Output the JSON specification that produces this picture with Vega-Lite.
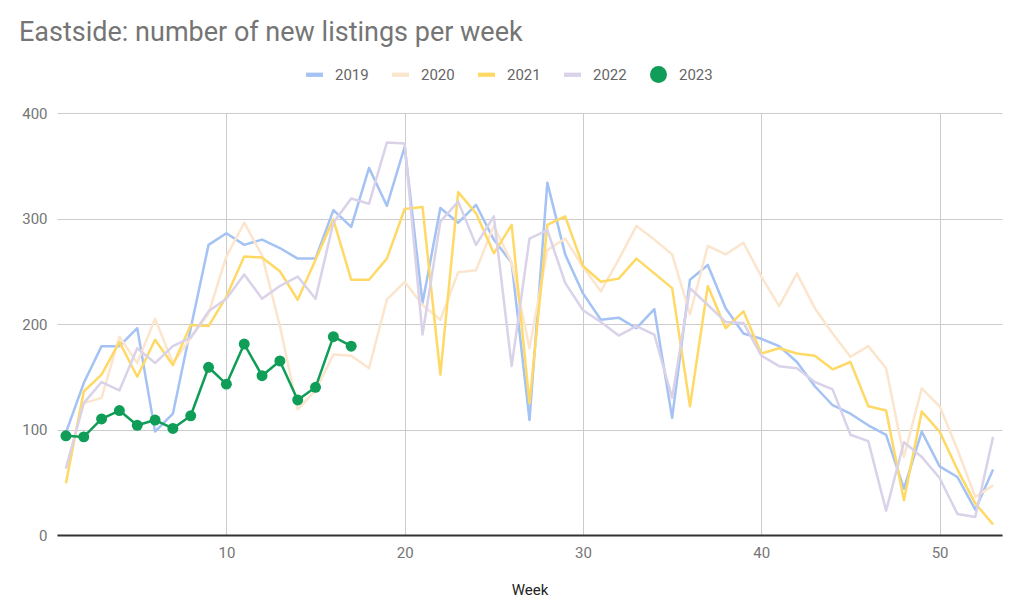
{
  "$schema": "https://vega.github.io/schema/vega-lite/v6.json",
  "width": 945,
  "height": 422,
  "autosize": {"type": "none"},
  "padding": {"left": 57, "top": 113, "right": 22, "bottom": 76},
  "background": "white",
  "config": {"view": {"stroke": null}},
  "title": {
    "text": "Eastside: number of new listings per week",
    "anchor": "start",
    "frame": "group",
    "dx": -38,
    "offset": 19,
    "font": "Roboto",
    "fontSize": 27,
    "fontWeight": "normal",
    "color": "#757575"
  },
  "data": {
    "values": [
      {"week": 1, "2019": 97, "2020": 63, "2021": 49, "2022": 63, "2023": 94},
      {"week": 2, "2019": 144, "2020": 125, "2021": 136, "2022": 125, "2023": 93},
      {"week": 3, "2019": 179, "2020": 130, "2021": 152, "2022": 145, "2023": 110},
      {"week": 4, "2019": 179, "2020": 188, "2021": 183, "2022": 137, "2023": 118},
      {"week": 5, "2019": 196, "2020": 163, "2021": 150, "2022": 177, "2023": 104},
      {"week": 6, "2019": 98, "2020": 205, "2021": 185, "2022": 163, "2023": 109},
      {"week": 7, "2019": 115, "2020": 163, "2021": 161, "2022": 179, "2023": 101},
      {"week": 8, "2019": 196, "2020": 187, "2021": 199, "2022": 187, "2023": 113},
      {"week": 9, "2019": 275, "2020": 210, "2021": 198, "2022": 212, "2023": 159},
      {"week": 10, "2019": 286, "2020": 264, "2021": 226, "2022": 224, "2023": 143},
      {"week": 11, "2019": 275, "2020": 296, "2021": 264, "2022": 247, "2023": 181},
      {"week": 12, "2019": 280, "2020": 265, "2021": 263, "2022": 224, "2023": 151},
      {"week": 13, "2019": 272, "2020": 198, "2021": 250, "2022": 236, "2023": 165},
      {"week": 14, "2019": 262, "2020": 119, "2021": 223, "2022": 245, "2023": 128},
      {"week": 15, "2019": 262, "2020": 137, "2021": 261, "2022": 224, "2023": 140},
      {"week": 16, "2019": 308, "2020": 171, "2021": 299, "2022": 296, "2023": 188},
      {"week": 17, "2019": 292, "2020": 170, "2021": 242, "2022": 319, "2023": 179},
      {"week": 18, "2019": 348, "2020": 158, "2021": 242, "2022": 314},
      {"week": 19, "2019": 312, "2020": 223, "2021": 262, "2022": 372},
      {"week": 20, "2019": 368, "2020": 240, "2021": 309, "2022": 371},
      {"week": 21, "2019": 220, "2020": 218, "2021": 311, "2022": 190},
      {"week": 22, "2019": 310, "2020": 204, "2021": 152, "2022": 297},
      {"week": 23, "2019": 296, "2020": 249, "2021": 325, "2022": 316},
      {"week": 24, "2019": 313, "2020": 251, "2021": 305, "2022": 275},
      {"week": 25, "2019": 280, "2020": 293, "2021": 267, "2022": 302},
      {"week": 26, "2019": 258, "2020": 258, "2021": 294, "2022": 160},
      {"week": 27, "2019": 109, "2020": 177, "2021": 125, "2022": 281},
      {"week": 28, "2019": 334, "2020": 270, "2021": 294, "2022": 289},
      {"week": 29, "2019": 266, "2020": 281, "2021": 302, "2022": 239},
      {"week": 30, "2019": 229, "2020": 254, "2021": 255, "2022": 213},
      {"week": 31, "2019": 204, "2020": 231, "2021": 240, "2022": 202},
      {"week": 32, "2019": 206, "2020": 261, "2021": 243, "2022": 189},
      {"week": 33, "2019": 196, "2020": 293, "2021": 262, "2022": 198},
      {"week": 34, "2019": 214, "2020": 280, "2021": 248, "2022": 190},
      {"week": 35, "2019": 111, "2020": 266, "2021": 234, "2022": 130},
      {"week": 36, "2019": 242, "2020": 209, "2021": 122, "2022": 234},
      {"week": 37, "2019": 256, "2020": 274, "2021": 236, "2022": 218},
      {"week": 38, "2019": 215, "2020": 266, "2021": 196, "2022": 202},
      {"week": 39, "2019": 191, "2020": 277, "2021": 212, "2022": 201},
      {"week": 40, "2019": 186, "2020": 245, "2021": 172, "2022": 170},
      {"week": 41, "2019": 179, "2020": 217, "2021": 177, "2022": 160},
      {"week": 42, "2019": 164, "2020": 248, "2021": 172, "2022": 158},
      {"week": 43, "2019": 141, "2020": 215, "2021": 170, "2022": 145},
      {"week": 44, "2019": 123, "2020": 191, "2021": 157, "2022": 138},
      {"week": 45, "2019": 115, "2020": 169, "2021": 164, "2022": 95},
      {"week": 46, "2019": 104, "2020": 179, "2021": 122, "2022": 89},
      {"week": 47, "2019": 95, "2020": 158, "2021": 118, "2022": 23},
      {"week": 48, "2019": 44, "2020": 74, "2021": 33, "2022": 88},
      {"week": 49, "2019": 98, "2020": 139, "2021": 117, "2022": 74},
      {"week": 50, "2019": 65, "2020": 122, "2021": 98, "2022": 54},
      {"week": 51, "2019": 55, "2020": 81, "2021": 62, "2022": 20},
      {"week": 52, "2019": 24, "2020": 36, "2021": 30, "2022": 17},
      {"week": 53, "2019": 62, "2020": 47, "2021": 10, "2022": 93}
    ]
  },
  "transform": [
    {"fold": ["2019", "2020", "2021", "2022", "2023"], "as": ["year", "value"]}
  ],
  "encoding": {
    "x": {
      "field": "week",
      "type": "quantitative",
      "scale": {"domain": [0.5, 53.5], "nice": false, "zero": false},
      "axis": {
        "values": [10, 20, 30, 40, 50],
        "title": "Week",
        "titleFont": "Roboto",
        "titleFontSize": 15,
        "titleFontWeight": "normal",
        "titleColor": "#222222",
        "titlePadding": 22,
        "labelFont": "Roboto",
        "labelFontSize": 15,
        "labelColor": "#757575",
        "labelPadding": 10,
        "ticks": false,
        "domainColor": "#333333",
        "domainWidth": 2,
        "gridColor": "#cccccc",
        "gridWidth": 1
      }
    },
    "y": {
      "field": "value",
      "type": "quantitative",
      "scale": {"domain": [0, 400], "nice": false},
      "axis": {
        "values": [0, 100, 200, 300, 400],
        "title": null,
        "domain": false,
        "ticks": false,
        "labelFont": "Roboto",
        "labelFontSize": 15,
        "labelColor": "#757575",
        "labelPadding": 10,
        "gridColor": "#cccccc",
        "gridWidth": 1
      }
    }
  },
  "layer": [
    {
      "mark": {"type": "line", "strokeWidth": 2.5, "strokeJoin": "round"},
      "encoding": {
        "color": {
          "field": "year",
          "type": "nominal",
          "scale": {
            "domain": ["2019", "2020", "2021", "2022", "2023"],
            "range": ["#a4c2f4", "#fce5cd", "#ffd966", "#d9d2e9", "#0f9d58"]
          },
          "legend": {
            "orient": "none",
            "legendX": 249,
            "legendY": -47,
            "direction": "horizontal",
            "title": null,
            "symbolSize": 289,
            "labelFont": "Roboto",
            "labelFontSize": 15,
            "labelColor": "#666666",
            "labelOffset": 12,
            "columnPadding": 23,
            "encode": {
              "symbols": {
                "update": {
                  "shape": {"signal": "datum.value === '2023' ? 'circle' : 'M-1,-0.25H1V0.25H-1Z'"},
                  "fill": {"signal": "scale('color', datum.value)"},
                  "stroke": {"value": "transparent"},
                  "strokeWidth": {"value": 0},
                  "opacity": {"value": 1}
                }
              }
            }
          }
        }
      }
    },
    {
      "transform": [{"filter": "datum.year === '2023'"}],
      "mark": {"type": "point", "filled": true, "size": 120, "opacity": 1, "color": "#0f9d58"},
      "encoding": {}
    }
  ]
}
